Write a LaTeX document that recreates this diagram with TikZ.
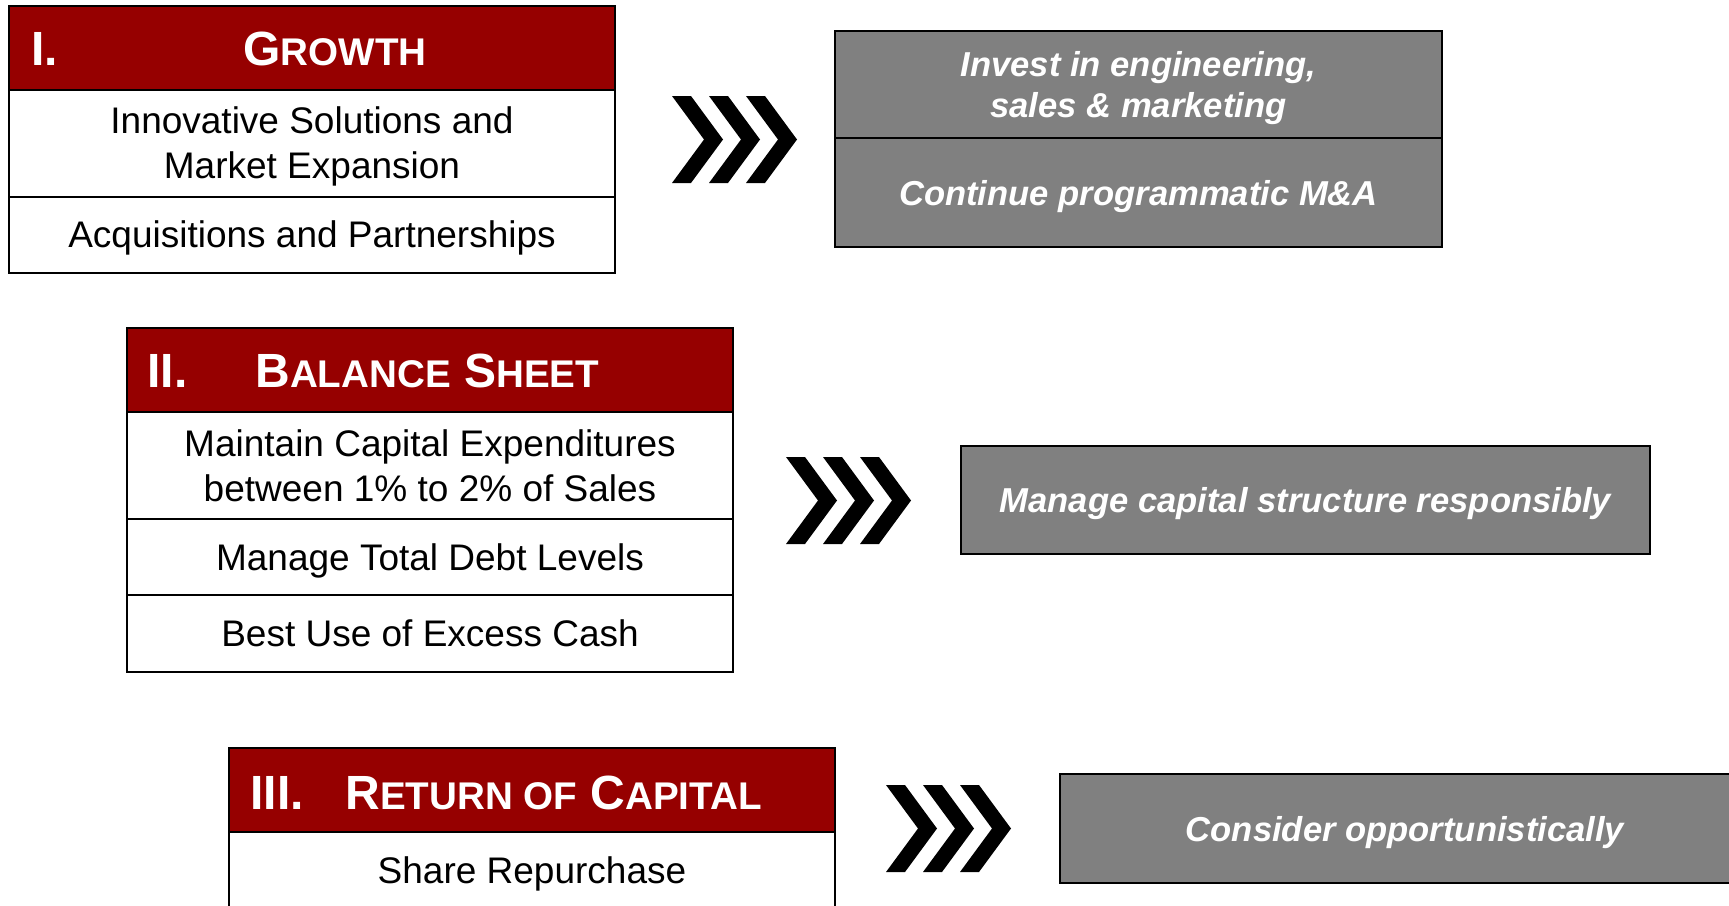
\documentclass[tikz,border=0pt]{standalone}
\usepackage{fontspec}
\setmainfont{Liberation Sans}
\usetikzlibrary{positioning}
\definecolor{hdrred}{RGB}{150,0,0}
\definecolor{boxgray}{RGB}{128,128,128}
\newcommand{\lowcap}[1]{{\fontsize{19.3}{22}\selectfont #1}}

\tikzset{
  hdr/.style={draw=black,line width=1pt,fill=hdrred,minimum width=303pt,minimum height=42pt,anchor=north west,inner sep=0pt,outer sep=0pt},
  row/.style={draw=black,line width=1pt,fill=white,minimum width=303pt,inner sep=0pt,outer sep=0pt,text depth=0pt,align=center,font=\fontsize{18.5}{22.5}\selectfont},
  htext/.style={text=white,font=\fontsize{24}{28}\selectfont\bfseries,anchor=base west,inner sep=0pt},
  plan/.style={draw=black,line width=0.8pt,fill=boxgray,text=white,anchor=north west,inner sep=0pt,outer sep=0pt,text depth=0pt,align=center,font=\fontsize{17.3}{20.5}\selectfont\bfseries\itshape},
  chevs/.pic={
    \foreach \k in {0,1,2}
      \fill[black] (37*\k,0) -- ++(19,0) -- ++(32,43.5) -- ++(-32,43.5) -- ++(-19,0) -- ++(32,-43.5) -- cycle;
  }
}

\begin{document}
\begin{tikzpicture}[x=0.5pt,y=-0.5pt]
  \useasboundingbox (0,0) rectangle (1729,905);

  % I. growth
  \node[hdr] (g-hd) at (9,5.5) {};
  \node[htext] (g-num) at (31,65) {I.};
  \node[htext] (g-title) at (243,65) {G\lowcap{ROWTH}};
  \node[row,minimum height=53.5pt,below=0pt of g-hd] (g-r1) {Innovative Solutions and\\Market Expansion};
  \node[row,minimum height=38pt,below=0pt of g-r1] (g-r2) {Acquisitions and Partnerships};

  \pic at (672,96) {chevs};
  \node[plan,minimum width=303.5pt,minimum height=53.5pt] (g-p1) at (835,31) {Invest in engineering,\\sales \& marketing};
  \node[plan,minimum width=303.5pt,minimum height=54.5pt,below=0pt of g-p1] (g-p2) {Continue programmatic M\&A};

  % II. balance sheet
  \node[hdr] (b-hd) at (127,328) {};
  \node[htext] (b-num) at (147,387) {II.};
  \node[htext] (b-title) at (255,387) {B\lowcap{ALANCE} S\lowcap{HEET}};
  \node[row,minimum height=53.5pt,below=0pt of b-hd] (b-r1) {Maintain Capital Expenditures\\between 1\% to 2\% of Sales};
  \node[row,minimum height=38pt,below=0pt of b-r1] (b-r2) {Manage Total Debt Levels};
  \node[row,minimum height=38.5pt,below=0pt of b-r2] (b-r3) {Best Use of Excess Cash};

  \pic at (786,457) {chevs};
  \node[plan,minimum width=344.5pt,minimum height=54pt] (b-p1) at (961,446) {Manage capital structure responsibly};

  % III. return of capital
  \node[hdr] (r-hd) at (229,748) {};
  \node[htext] (r-num) at (250,809) {III.};
  \node[htext] (r-title) at (345,809) {R\lowcap{ETURN OF} C\lowcap{APITAL}};
  \node[row,minimum height=38pt,below=0pt of r-hd] (r-r1) {Share Repurchase};

  \pic at (886,785) {chevs};
  \node[plan,minimum width=345pt,minimum height=54.5pt] (r-p1) at (1060,774) {Consider opportunistically};

\end{tikzpicture}
\end{document}
